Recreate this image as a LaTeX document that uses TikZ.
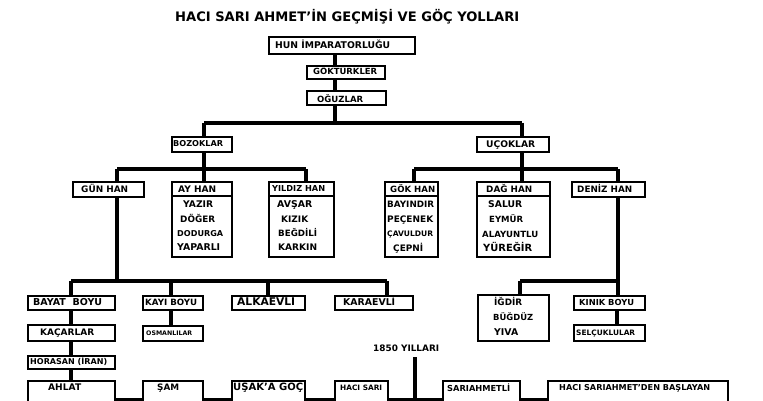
\documentclass[tikz,border=0pt]{standalone}
\usepackage{fontspec}
\setmainfont{DejaVu Sans}
\usetikzlibrary{backgrounds}
\newcommand\fw[2]{\resizebox{#1pt}{!}{\bfseries\smash{#2}\vphantom{X}}}
\newcommand\bx[5]{\node[bx, minimum width={(#4-#2)*1pt}, minimum height={(#5-#3)*1pt}] (#1) at ({(#2+#4)/2},{(#3+#5)/2}) {};}
\newcommand\tn[5]{\node[tx] (#1) at (#2,#3) {\fw{#4}{#5}};}
\tikzset{
  bx/.style={draw, line width=2pt, fill=white, inner sep=0pt, rectangle},
  cn/.style={line width=4pt},
  dv/.style={line width=1.4pt},
  tx/.style={anchor=west, inner sep=0pt}
}
\begin{document}
\begin{tikzpicture}[x=1pt,y=-1pt]
\useasboundingbox (0,0) rectangle (763,401);
\clip (0,0) rectangle (763,401);
% title
\tn{title}{175}{16.5}{344}{HACI SARI AHMET'İN GEÇMİŞİ VE GÖÇ YOLLARI}
% boxes
\bx{hun}{269}{37}{415}{54}
\bx{gok}{307}{66}{385}{79}
\bx{ogu}{307}{91}{386}{105}
\bx{boz}{172}{137}{232}{152}
\bx{uco}{477}{137}{549}{152}
\bx{gun}{73}{182}{144}{197}
\bx{ay}{172}{182}{232}{257}
\bx{yil}{269}{182}{334}{257}
\bx{gokh}{385}{182}{438}{257}
\bx{dag}{477}{182}{550}{257}
\bx{den}{572}{182}{645}{197}
\bx{bay}{28}{296}{115}{310}
\bx{kayi}{143}{296}{203}{310}
\bx{alk}{232}{296}{305}{310}
\bx{kar}{335}{296}{413}{310}
\bx{kac}{28}{325}{115}{341}
\bx{osm}{143}{326}{203}{341}
\bx{hor}{28}{356}{115}{369}
\bx{ahl}{28}{381}{115}{420}
\bx{sam}{143}{381}{203}{420}
\bx{usa}{232}{381}{305}{420}
\bx{hsa}{335}{381}{388}{420}
\bx{sar}{443}{381}{520}{420}
\bx{hsb}{548}{381}{728}{420}
\bx{igd}{478}{295}{549}{341}
\bx{kin}{574}{296}{645}{310}
\bx{sel}{574}{325}{645}{341}
% dividers
\foreach \b in {ay,yil,gokh,dag}{
  \draw[dv] ([yshift=-15pt]\b.north west) -- ([yshift=-15pt]\b.north east);
}
% texts
\tn{hunT}{275}{45}{115}{HUN İMPARATORLUĞU}
\tn{gokT}{313}{71.7}{64}{GÖKTÜRKLER}
\tn{oguT}{317}{99}{46}{OĞUZLAR}
\tn{bozT}{173}{143.7}{50}{BOZOKLAR}
\tn{ucoT}{486}{143.7}{49}{UÇOKLAR}
\tn{gunT}{81}{189}{47}{GÜN HAN}
\tn{ayT}{178}{189}{38}{AY HAN}
\tn{ay1}{183}{204}{30}{YAZIR}
\tn{ay2}{180}{219}{35}{DÖĞER}
\tn{ay3}{177}{233.8}{46}{DODURGA}
\tn{ay4}{177}{247.3}{43}{YAPARLI}
\tn{yilT}{272}{189}{53}{YILDIZ HAN}
\tn{yil1}{277}{204}{35}{AVŞAR}
\tn{yil2}{281}{219}{27}{KIZIK}
\tn{yil3}{278}{233.8}{39}{BEĞDİLİ}
\tn{yil4}{278}{247.3}{39}{KARKIN}
\tn{gokhT}{390}{189.5}{45}{GÖK HAN}
\tn{gokh1}{387}{204}{47}{BAYINDIR}
\tn{gokh2}{387}{219.5}{46}{PEÇENEK}
\tn{gokh3}{387}{234}{46}{ÇAVULDUR}
\tn{gokh4}{393}{248}{30}{ÇEPNİ}
\tn{dagT}{486}{189.5}{46}{DAĞ HAN}
\tn{dag1}{488}{204}{34}{SALUR}
\tn{dag2}{489}{219.5}{34}{EYMÜR}
\tn{dag3}{482}{234}{56}{ALAYUNTLU}
\tn{dag4}{483}{248}{49}{YÜREĞİR}
\tn{denT}{577}{189.5}{55}{DENİZ HAN}
\tn{bayT}{33}{302}{69}{BAYAT\ \ BOYU}
\tn{kayiT}{145}{302.5}{52}{KAYI BOYU}
\tn{alkT}{237}{302}{58}{ALKAEVLİ}
\tn{karT}{343}{302}{52}{KARAEVLİ}
\tn{kacT}{40}{332}{54}{KAÇARLAR}
\tn{osmT}{146}{333}{46}{OSMANLILAR}
\tn{horT}{30}{362}{77}{HORASAN (İRAN)}
\tn{ahlT}{48}{387}{33}{AHLAT}
\tn{samT}{157}{387}{22}{ŞAM}
\tn{usaT}{233}{387}{70}{UŞAK'A GÖÇ}
\tn{hsaT}{340}{388}{42}{HACI SARI}
\tn{yT}{373}{348}{66}{1850 YILLARI}
\tn{igd1}{494}{302}{28}{İĞDİR}
\tn{igd2}{493}{317}{40}{BÜĞDÜZ}
\tn{igd3}{494}{331.7}{24}{YIVA}
\tn{kinT}{579}{302}{55}{KINIK BOYU}
\tn{selT}{576}{333}{59}{SELÇUKLULAR}
\tn{sarT}{447}{388}{63}{SARIAHMETLİ}
\tn{hsbT}{559}{388}{151}{HACI SARIAHMET'DEN BAŞLAYAN}
% junction coordinates
\coordinate (c0) at (335,123);
\coordinate (cl) at (204,123);
\coordinate (cr) at (522,123);
\coordinate (cbl) at (204,169);
\coordinate (cbl1) at (117,169);
\coordinate (cbl2) at (306,169);
\coordinate (cbr) at (522,169);
\coordinate (cbr1) at (414,169);
\coordinate (cbr2) at (618,169);
\coordinate (cg) at (117,281);
\coordinate (cg1) at (71,281);
\coordinate (cg2) at (171,281);
\coordinate (cg3) at (268,281);
\coordinate (cg4) at (387,281);
\coordinate (cd) at (618,281);
\coordinate (cd1) at (520,281);
\coordinate (cy) at (415,357);
\coordinate (cyb) at (415,410);
\coordinate (hb) at (0,400);
\coordinate (ck) at (617,0);
\begin{scope}[on background layer]
\draw[cn] (hun.south -| c0) -- (c0);
\draw[cn] (cl) -- (cr);
\draw[cn] (cl) -- (boz.north -| cl);
\draw[cn] (cr) -- (uco.north -| cr);
\draw[cn] (boz.south -| cbl) -- (cbl);
\draw[cn] (cbl1) -- (cbl2);
\draw[cn] (cbl1) -- (gun.north -| cbl1);
\draw[cn] (cbl) -- (ay.north -| cbl);
\draw[cn] (cbl2) -- (yil.north -| cbl2);
\draw[cn] (uco.south -| cbr) -- (cbr);
\draw[cn] (cbr1) -- (cbr2);
\draw[cn] (cbr1) -- (gokh.north -| cbr1);
\draw[cn] (cbr) -- (dag.north -| cbr);
\draw[cn] (cbr2) -- (den.north -| cbr2);
\draw[cn] (gun.south -| cg) -- (cg);
\draw[cn] (cg1) -- (cg4);
\draw[cn] (cg1) -- (bay.north -| cg1);
\draw[cn] (cg2) -- (kayi.north -| cg2);
\draw[cn] (cg3) -- (alk.north -| cg3);
\draw[cn] (cg4) -- (kar.north -| cg4);
\draw[cn] (bay.south -| cg1) -- (kac.north -| cg1);
\draw[cn] (kac.south -| cg1) -- (hor.north -| cg1);
\draw[cn] (hor.south -| cg1) -- (ahl.north -| cg1);
\draw[cn] (kayi.south -| cg2) -- (osm.north -| cg2);
\draw[cn] (den.south -| cd) -- (cd);
\draw[cn] (cd1) -- (cd);
\draw[cn] (cd1) -- (igd.north -| cd1);
\draw[cn] (cd) -- (kin.north -| cd);
\draw[cn] (kin.south -| ck) -- (sel.north -| ck);
\draw[cn] (cy) -- (cyb);
\draw[cn] (ahl.east |- hb) -- (hsb.west |- hb);
\end{scope}
\end{tikzpicture}
\end{document}
